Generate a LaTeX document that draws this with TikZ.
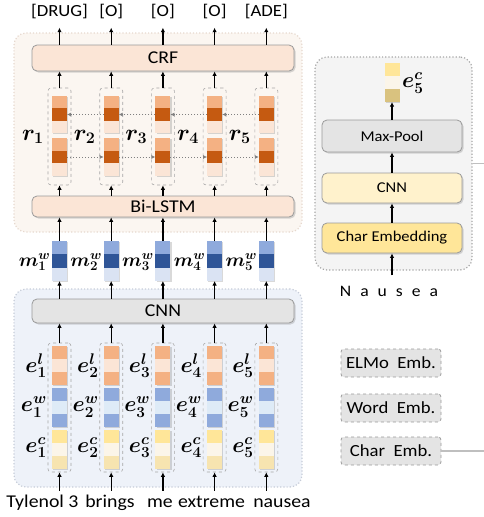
\RequirePackage{fix-cm}
\documentclass[tikz,border=0pt]{standalone}
\usepackage{amsmath,bm}
\usepackage{fontspec}
\setmainfont{Carlito}[FakeStretch=1.1]
\usetikzlibrary{arrows.meta,shadows}
\definecolor{orL}{HTML}{F4B183}
\definecolor{orD}{HTML}{C55A11}
\definecolor{orP}{HTML}{FBE5D6}
\definecolor{blL}{HTML}{8FAADC}
\definecolor{blD}{HTML}{2F5597}
\definecolor{blP}{HTML}{DAE3F3}
\definecolor{blQ}{HTML}{DEEBF7}
\definecolor{yeL}{HTML}{FFE699}
\definecolor{yeP}{HTML}{FBF5E9}
\definecolor{yeT}{HTML}{F7E4B0}
\definecolor{yeD}{HTML}{D9C27F}
\definecolor{bgO}{HTML}{FBF6F1}
\definecolor{bdO}{HTML}{E6D8CE}
\definecolor{bgB}{HTML}{EEF2F9}
\definecolor{bdB}{HTML}{C6CCD8}
\definecolor{bgG}{HTML}{F4F4F4}
\definecolor{bdG}{HTML}{A6A6A6}
\definecolor{boxG}{HTML}{E4E4E4}
\definecolor{cnnY}{HTML}{FFF2CC}
\definecolor{edgeG}{HTML}{9A9A9A}
\definecolor{lineG}{HTML}{BFBFBF}
\newcommand{\cells}[6]{%
  \fill[#4] (#1-7.5,#2) rectangle ++(15,#3);
  \fill[#5] (#1-7.5,#2+#3) rectangle ++(15,#3);
  \fill[#6] (#1-7.5,#2+2*#3) rectangle ++(15,#3);
}
\begin{document}
\begin{tikzpicture}[x=1pt,y=-1pt,
  panel/.style={draw=#1, dotted, line width=1.2pt, rounded corners=12pt, inner sep=0pt},
  layer/.style={draw=edgeG, line width=0.8pt, rounded corners=5pt, inner sep=0pt,
    drop shadow={shadow xshift=1.5pt,shadow yshift=-1.5pt,opacity=0.3},
    font=\fontsize{18}{20}\selectfont},
  smalllayer/.style={layer, minimum width=140pt, font=\fontsize{15}{17}\selectfont},
  grp/.style={draw=bdG, dashed, line width=0.6pt, rounded corners=3pt, inner sep=0pt, minimum width=23pt},
  barbox/.style={minimum width=15pt, inner sep=0pt, outer sep=0pt, fill=white,
    drop shadow={shadow xshift=1.2pt,shadow yshift=-1.2pt,opacity=0.3}},
  arr/.style={-{Latex[length=4.5pt,width=4.5pt]}, line width=1.2pt},
  darr/.style={-{Latex[length=4pt,width=4pt]}, draw=gray, dotted, line width=1pt},
  toplab/.style={font=\fontsize{17}{20}\selectfont, inner xsep=0pt, inner ysep=7pt, text height=12pt, text depth=4pt},
  wordlab/.style={font=\fontsize{18}{20}\selectfont, inner xsep=0pt, inner ysep=4pt, text height=12pt, text depth=4pt},
  mlab/.style={font=\fontsize{23}{26}\selectfont, inner sep=0pt},
  mwlab/.style={font=\fontsize{19}{22}\selectfont, inner sep=0pt},
  elab/.style={font=\fontsize{22}{25}\selectfont, inner sep=0pt},
  leg/.style={draw=edgeG, dashed, line width=0.8pt, fill=boxG, rounded corners=3pt, minimum width=100pt, minimum height=28pt, inner sep=0pt, font=\fontsize{17}{19}\selectfont},
  gline/.style={draw=lineG, line width=1.5pt}
]
\useasboundingbox (0,0) rectangle (484,517);
% panels
\node[panel=bdO, fill=bgO, minimum width=288pt, minimum height=199pt] (pO) at (158,132.5) {};
\node[panel=bdB, fill=bgB, minimum width=288pt, minimum height=198pt] (pB) at (158,388) {};
\node[panel=bdG, fill=bgG, minimum width=157pt, minimum height=213pt] (pR) at (393.5,163.5) {};
% main layers
\node[layer, fill=orP, minimum width=262pt, minimum height=26pt] (crf) at (163,58) {CRF};
\node[layer, fill=orP, minimum width=262pt, minimum height=21pt] (bilstm) at (163,206.5) {Bi-LSTM};
\node[layer, fill=boxG, minimum width=262pt, minimum height=24pt] (cnn) at (163,311) {CNN};
% columns
\foreach \i/\x/\t in {1/59.5/{[DRUG]},2/111.2/{[O]},3/162.9/{[O]},4/214.6/{[O]},5/266.3/{[ADE]}}{
  \node[toplab] (o\i) at (\x,12.5) {\t};
  \draw[arr] (crf.north -| o\i) -- (o\i.south);
  % r group
  \node[grp, minimum height=97pt] (rg\i) at (\x,136.5) {};
  \node[barbox, minimum height=37pt] (rt\i) at (\x,114.5) {};
  \cells{\x}{96}{12.33}{orL}{orD}{orP}
  \node[barbox, minimum height=38pt] (rb\i) at (\x,157) {};
  \cells{\x}{138}{12.67}{orL}{orD}{orP}
  \node[mlab, anchor=east] (rl\i) at (\x-15.5,137) {$\bm{r}_{\bm{\i}}$};
  \draw[arr] (rg\i.north) -- (crf.south -| rg\i);
  \draw[arr] (bilstm.north -| rg\i) -- (rg\i.south);
  % m bars
  \node[barbox, minimum height=40pt] (m\i) at (\x,261) {};
  \cells{\x}{241}{13.33}{blL}{blD}{blP}
  \node[mwlab, anchor=east] (ml\i) at (\x-9,262) {$\bm{m^{w}_{\i}}$};
  \draw[arr] (m\i.north) -- (bilstm.south -| m\i);
  \draw[arr] (cnn.north -| m\i) -- (m\i.south);
  % e group
  \node[grp, minimum height=129pt] (eg\i) at (\x,407.5) {};
  \node[barbox, minimum height=39pt] (el\i) at (\x,365.5) {};
  \cells{\x}{346}{13}{orL}{orP}{orL}
  \node[barbox, minimum height=39pt] (ew\i) at (\x,407.5) {};
  \cells{\x}{388}{13}{blL}{blQ}{blL}
  \node[barbox, minimum height=39pt] (ec\i) at (\x,449.5) {};
  \cells{\x}{430}{13}{yeL}{yeP}{yeT}
  \node[elab, anchor=east] at (\x-12.5,365.5) {$\bm{e^{l}_{\i}}$};
  \node[elab, anchor=east] at (\x-12.5,407) {$\bm{e^{w}_{\i}}$};
  \node[elab, anchor=east] at (\x-12.5,447.5) {$\bm{e^{c}_{\i}}$};
  \draw[arr] (eg\i.north) -- (cnn.south -| eg\i);
}
% dotted recurrent arrows
\foreach \i/\j in {1/2,2/3,3/4,4/5}{
  \draw[darr] (rt\j) -- (rt\i);
  \draw[darr] (rb\i) -- (rb\j);
}
% words
\node[wordlab] (w1) at (42.5,503) {Tylenol 3};
\node[wordlab] (w2) at (110,503) {brings};
\node[wordlab] (w3) at (160,503) {me};
\node[wordlab] (w4) at (211.5,503) {extreme};
\node[wordlab] (w5) at (282,503) {nausea};
\foreach \i in {1,...,5}{
  \draw[arr] (w\i.north -| eg\i) -- (eg\i.south);
}
% right panel
\node[smalllayer, fill=boxG, minimum height=32pt] (maxpool) at (392,136) {Max-Pool};
\node[smalllayer, fill=cnnY, minimum height=30pt] (ccnn) at (392,188) {CNN};
\node[smalllayer, fill=yeL, minimum height=30pt] (cemb) at (392,238) {Char Embedding};
\node[barbox, minimum width=14pt, minimum height=39pt] (e5c) at (392,82.5) {};
\cells{392}{63}{13}{yeL}{yeP}{yeD}
\node[elab, anchor=west] (e5clab) at (402,83) {$\bm{e^{c}_{5}}$};
\node[font=\fontsize{16}{18}\selectfont, inner xsep=0pt, inner ysep=9pt, text height=12pt, text depth=3pt] (nausea) at (389,292) {N\hspace{9pt}a\hspace{9pt}u\hspace{9pt}s\hspace{9pt}e\hspace{9pt}a};
\draw[arr] (maxpool.north) -- (e5c.south);
\draw[arr] (ccnn.north) -- (maxpool.south);
\draw[arr] (cemb.north) -- (ccnn.south);
\draw[arr] (nausea.north -| cemb) -- (cemb.south);
% legend
\node[leg] (elmo) at (391,363) {ELMo\ \ Emb.};
\node[leg] (word) at (391,408) {Word\ \ Emb.};
\node[leg] (char) at (391,451) {Char\ \ Emb.};
\coordinate (edge1) at (484,163.5);
\coordinate (edge2) at (484,451);
\draw[gline] (pR.east) -- (edge1);
\draw[gline] (char.east) -- (edge2);
\end{tikzpicture}
\end{document}
